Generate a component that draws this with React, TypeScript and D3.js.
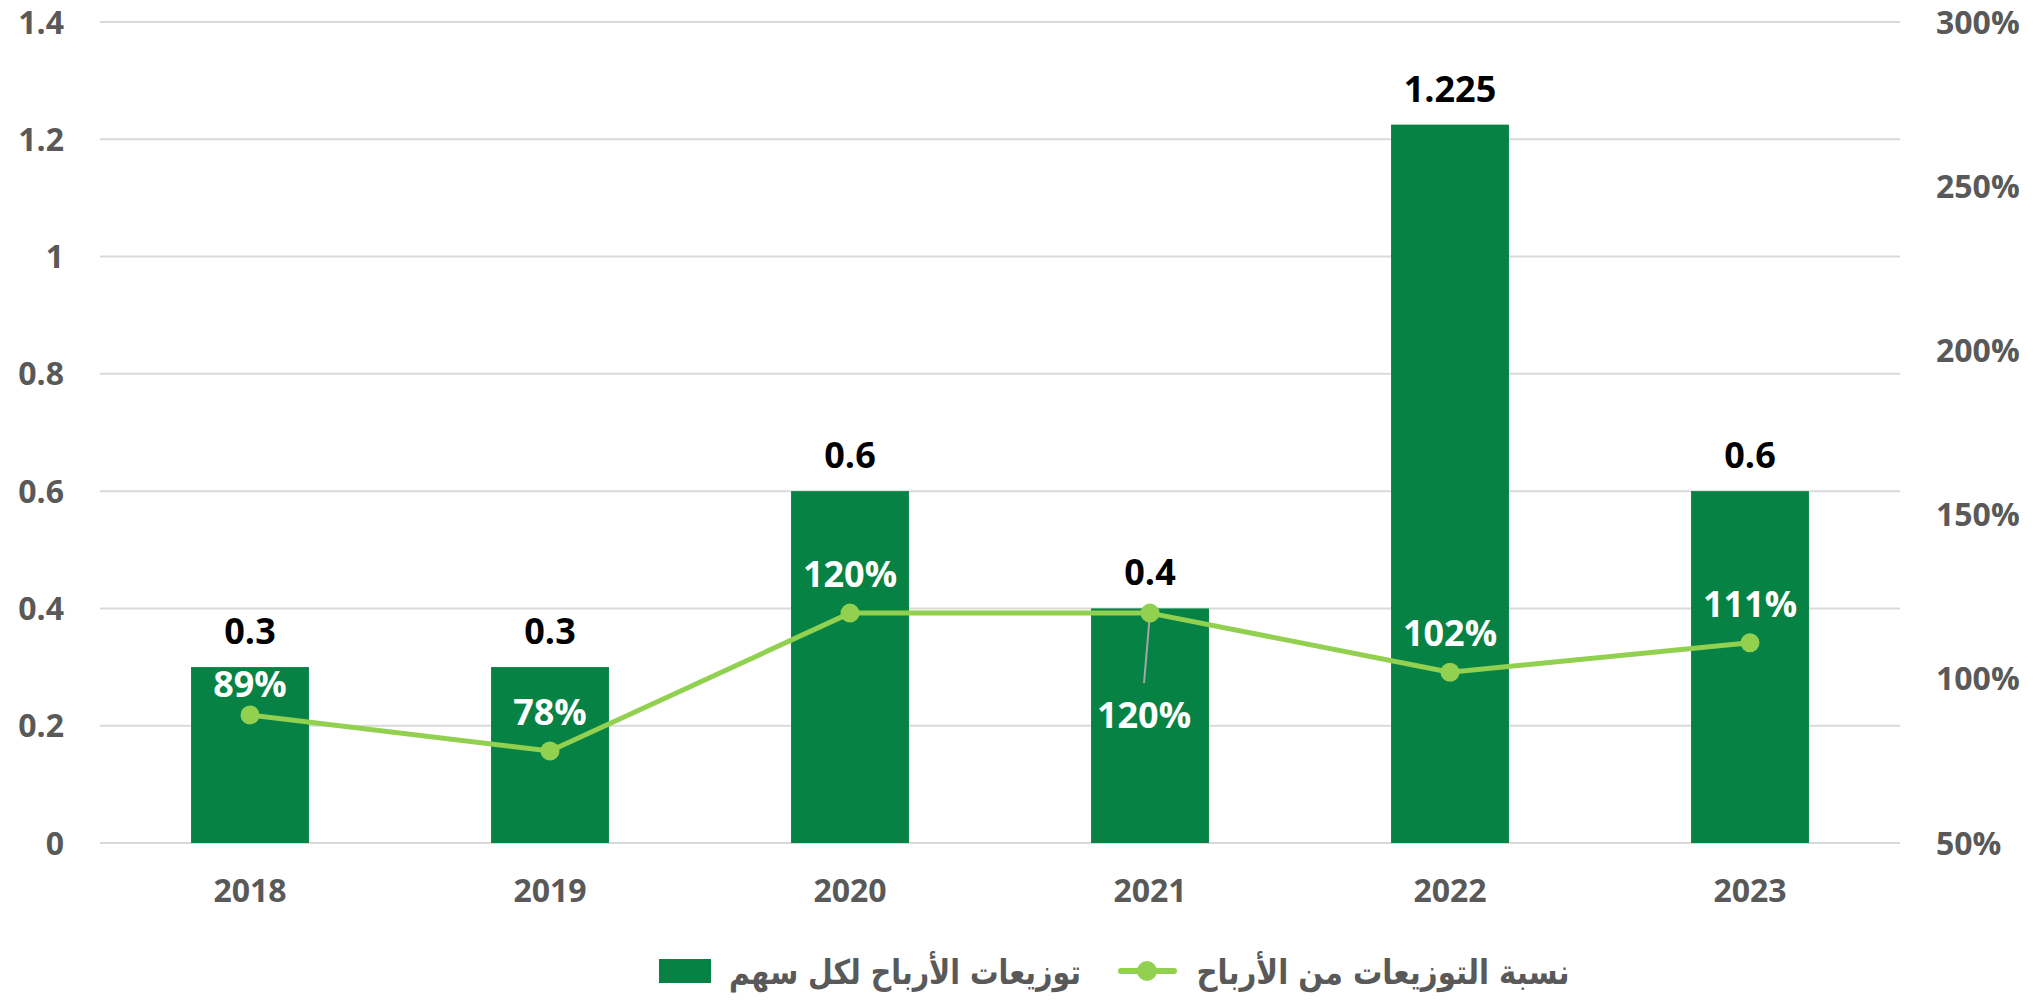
import React from "react";
import * as d3 from "d3";

// chart data
const years = ["2018", "2019", "2020", "2021", "2022", "2023"];
const dividends = [0.3, 0.3, 0.6, 0.4, 1.225, 0.6];
const payoutRatio = [89, 78, 120, 120, 102, 111];
const leftTicks = [0, 0.2, 0.4, 0.6, 0.8, 1, 1.2, 1.4];
const rightTicks = [50, 100, 150, 200, 250, 300];
const barLegend = "توزيعات الأرباح لكل سهم";
const lineLegend = "نسبة التوزيعات من الأرباح";

const W = 2038;
const H = 1000;
const margin = { top: 22, right: 138, bottom: 157, left: 100 };

const BAR_COLOR = "#068244";
const LINE_COLOR = "#92D050";
const AXIS_COLOR = "#595959";
const NUM_FONT = "'Open Sans', 'Liberation Sans', sans-serif";
const AR_FONT = "'DejaVu Sans', sans-serif";

const App = () => {
    const innerW = W - margin.left - margin.right;
    const y0 = H - margin.bottom;

    const x = d3.scaleBand().domain(years).range([margin.left, margin.left + innerW]).padding(0);
    const yL = d3.scaleLinear().domain([0, 1.4]).range([y0, margin.top]);
    const yR = d3.scaleLinear().domain([50, 300]).range([y0, margin.top]);

    const barW = x.bandwidth() * 0.393;
    const cx = (yr) => x(yr) + x.bandwidth() / 2;

    const line = d3.line()
        .x((d, i) => cx(years[i]))
        .y(d => yR(d));

    // label offsets for the payout labels (2021 sits below its point)
    const labelY = (v, i) => {
        if (i === 3) return yR(v) + 115;
        if (i === 0) return yR(v) - 18;
        return yR(v) - 26;
    };

    return (
        <svg width={W} height={H} style={{ position: "absolute", left: 0, top: 0, background: "#fff" }}>
            {/* gridlines */}
            {leftTicks.map(t => (
                <line key={t} x1={margin.left} x2={margin.left + innerW} y1={yL(t)} y2={yL(t)}
                    stroke="#d9d9d9" strokeWidth={2} />
            ))}

            {/* left axis */}
            {leftTicks.map(t => (
                <text key={"l" + t} x={64} y={yL(t)} dy="0.36em" textAnchor="end"
                    fontFamily={NUM_FONT} fontWeight={700} fontSize={32} fill={AXIS_COLOR}>
                    {d3.format("~g")(t)}
                </text>
            ))}

            {/* right axis */}
            {rightTicks.map(t => (
                <text key={"r" + t} x={1936} y={yR(t)} dy="0.36em" textAnchor="start"
                    fontFamily={NUM_FONT} fontWeight={700} fontSize={32} fill={AXIS_COLOR}>
                    {t + "%"}
                </text>
            ))}

            {/* x axis labels */}
            {years.map(yr => (
                <text key={"x" + yr} x={cx(yr)} y={902} textAnchor="middle"
                    fontFamily={NUM_FONT} fontWeight={700} fontSize={32} fill={AXIS_COLOR}>
                    {yr}
                </text>
            ))}

            {/* bars */}
            {dividends.map((v, i) => (
                <rect key={"b" + i} x={cx(years[i]) - barW / 2} y={yL(v)} width={barW} height={y0 - yL(v)}
                    fill={BAR_COLOR} />
            ))}

            {/* bar labels */}
            {dividends.map((v, i) => (
                <text key={"bl" + i} x={cx(years[i])} y={yL(v) - 23} textAnchor="middle"
                    fontFamily={NUM_FONT} fontWeight={700} fontSize={36} fill="#000">
                    {String(v)}
                </text>
            ))}

            {/* leader line for 2021 label */}
            <line x1={cx("2021")} y1={yR(payoutRatio[3])} x2={cx("2021") - 6} y2={yR(payoutRatio[3]) + 70}
                stroke="#a6a6a6" strokeWidth={2} />

            {/* payout line */}
            <path d={line(payoutRatio)} fill="none" stroke={LINE_COLOR} strokeWidth={5} strokeLinejoin="round" />
            {payoutRatio.map((v, i) => (
                <circle key={"c" + i} cx={cx(years[i])} cy={yR(v)} r={9.5} fill={LINE_COLOR} />
            ))}

            {/* payout labels */}
            {payoutRatio.map((v, i) => (
                <text key={"pl" + i} x={cx(years[i]) + (i === 3 ? -6 : 0)}
                    y={labelY(v, i)} textAnchor="middle"
                    fontFamily={NUM_FONT} fontWeight={700} fontSize={36} fill="#fff">
                    {v + "%"}
                </text>
            ))}

            {/* legend */}
            <rect x={659} y={959} width={52} height={24} fill={BAR_COLOR} />
            <text x={905} y={984} textAnchor="middle" fontFamily={AR_FONT}
                fontWeight={700} fontSize={34} fill={AXIS_COLOR}
                textLength={352} lengthAdjust="spacingAndGlyphs">
                {barLegend}
            </text>
            <line x1={1121} x2={1174} y1={971} y2={971} stroke={LINE_COLOR} strokeWidth={6} strokeLinecap="round" />
            <circle cx={1147} cy={971} r={10} fill={LINE_COLOR} />
            <text x={1383} y={984} textAnchor="middle" fontFamily={AR_FONT}
                fontWeight={700} fontSize={34} fill={AXIS_COLOR}
                textLength={373} lengthAdjust="spacingAndGlyphs">
                {lineLegend}
            </text>
        </svg>
    );
};

export default App;
